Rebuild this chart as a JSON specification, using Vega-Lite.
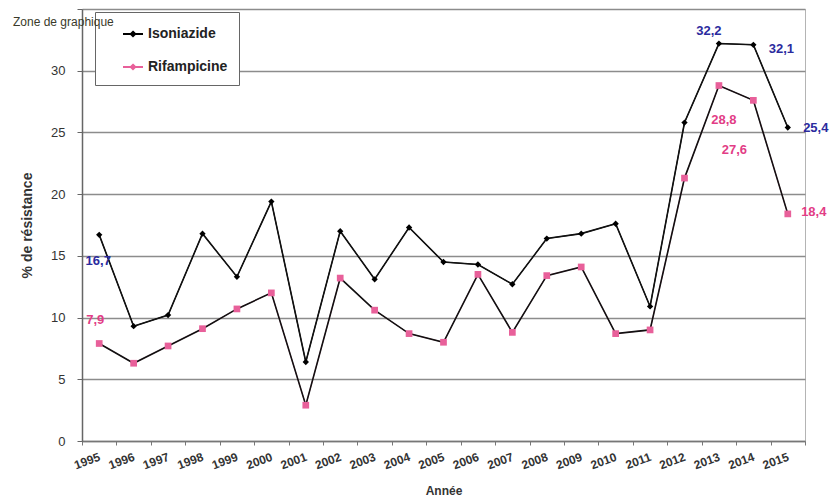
{
  "$schema": "https://vega.github.io/schema/vega-lite/v6.json",
  "width": 723,
  "height": 432,
  "autosize": {"type": "none"},
  "padding": {"left": 82, "top": 9, "right": 27, "bottom": 60},
  "background": "white",
  "config": {
    "font": "Liberation Sans",
    "view": {"stroke": "#b4b4b4", "strokeWidth": 1},
    "locale": {"number": {"decimal": ",", "thousands": " ", "grouping": [3], "currency": ["", " €"]}}
  },
  "title": {
    "text": "Zone de graphique",
    "anchor": "start",
    "frame": "group",
    "orient": "top",
    "fontSize": 12,
    "fontWeight": "normal",
    "color": "#3a3a2a",
    "dx": -69,
    "offset": -20
  },
  "data": {
    "values": [
      {"annee": "1995", "serie": "Isoniazide", "val": 16.7},
      {"annee": "1996", "serie": "Isoniazide", "val": 9.3},
      {"annee": "1997", "serie": "Isoniazide", "val": 10.2},
      {"annee": "1998", "serie": "Isoniazide", "val": 16.8},
      {"annee": "1999", "serie": "Isoniazide", "val": 13.3},
      {"annee": "2000", "serie": "Isoniazide", "val": 19.4},
      {"annee": "2001", "serie": "Isoniazide", "val": 6.4},
      {"annee": "2002", "serie": "Isoniazide", "val": 17.0},
      {"annee": "2003", "serie": "Isoniazide", "val": 13.1},
      {"annee": "2004", "serie": "Isoniazide", "val": 17.3},
      {"annee": "2005", "serie": "Isoniazide", "val": 14.5},
      {"annee": "2006", "serie": "Isoniazide", "val": 14.3},
      {"annee": "2007", "serie": "Isoniazide", "val": 12.7},
      {"annee": "2008", "serie": "Isoniazide", "val": 16.4},
      {"annee": "2009", "serie": "Isoniazide", "val": 16.8},
      {"annee": "2010", "serie": "Isoniazide", "val": 17.6},
      {"annee": "2011", "serie": "Isoniazide", "val": 10.9},
      {"annee": "2012", "serie": "Isoniazide", "val": 25.8},
      {"annee": "2013", "serie": "Isoniazide", "val": 32.2},
      {"annee": "2014", "serie": "Isoniazide", "val": 32.1},
      {"annee": "2015", "serie": "Isoniazide", "val": 25.4},
      {"annee": "1995", "serie": "Rifampicine", "val": 7.9},
      {"annee": "1996", "serie": "Rifampicine", "val": 6.3},
      {"annee": "1997", "serie": "Rifampicine", "val": 7.7},
      {"annee": "1998", "serie": "Rifampicine", "val": 9.1},
      {"annee": "1999", "serie": "Rifampicine", "val": 10.7},
      {"annee": "2000", "serie": "Rifampicine", "val": 12.0},
      {"annee": "2001", "serie": "Rifampicine", "val": 2.9},
      {"annee": "2002", "serie": "Rifampicine", "val": 13.2},
      {"annee": "2003", "serie": "Rifampicine", "val": 10.6},
      {"annee": "2004", "serie": "Rifampicine", "val": 8.7},
      {"annee": "2005", "serie": "Rifampicine", "val": 8.0},
      {"annee": "2006", "serie": "Rifampicine", "val": 13.5},
      {"annee": "2007", "serie": "Rifampicine", "val": 8.8},
      {"annee": "2008", "serie": "Rifampicine", "val": 13.4},
      {"annee": "2009", "serie": "Rifampicine", "val": 14.1},
      {"annee": "2010", "serie": "Rifampicine", "val": 8.7},
      {"annee": "2011", "serie": "Rifampicine", "val": 9.0},
      {"annee": "2012", "serie": "Rifampicine", "val": 21.3},
      {"annee": "2013", "serie": "Rifampicine", "val": 28.8},
      {"annee": "2014", "serie": "Rifampicine", "val": 27.6},
      {"annee": "2015", "serie": "Rifampicine", "val": 18.4}
    ]
  },
  "encoding": {
    "x": {
      "field": "annee",
      "type": "ordinal",
      "scale": {"type": "band", "paddingInner": 0, "paddingOuter": 0},
      "axis": {
        "title": "Année",
        "titleFontSize": 12,
        "titleFontWeight": "bold",
        "titleColor": "#333",
        "titleBaseline": "middle",
        "titleY": 49,
        "labelAngle": -20,
        "labelAlign": "right",
        "labelBaseline": "middle",
        "labelPadding": 11,
        "labelFontSize": 12,
        "labelFontWeight": "bold",
        "labelColor": "#333",
        "tickBand": "extent",
        "tickSize": 4,
        "tickColor": "#777",
        "domainColor": "#777",
        "domainWidth": 1.5,
        "grid": false
      }
    },
    "y": {
      "field": "val",
      "type": "quantitative",
      "scale": {"domain": [0, 35], "nice": false},
      "axis": {
        "title": "% de résistance",
        "titleFontSize": 14,
        "titleFontWeight": "bold",
        "titleColor": "#333",
        "titleX": -55,
        "titleY": 216,
        "titleAnchor": "middle",
        "titleBaseline": "middle",
        "values": [0, 5, 10, 15, 20, 25, 30, 35],
        "labelExpr": "datum.value === 35 ? '' : datum.label",
        "labelFontSize": 13,
        "labelColor": "#333",
        "labelPadding": 12,
        "tickSize": 5,
        "tickColor": "#666",
        "domainColor": "#666",
        "domainWidth": 1.5,
        "gridColor": "#8c8c8c",
        "gridWidth": 1.5
      }
    }
  },
  "layer": [
    {
      "mark": {"type": "line", "strokeWidth": 1},
      "encoding": {
        "color": {
          "field": "serie",
          "type": "nominal",
          "scale": {"domain": ["Isoniazide", "Rifampicine"], "range": ["#000000", "#e8609a"]},
          "legend": {
            "orient": "none",
            "legendX": 13,
            "legendY": 3,
            "title": null,
            "strokeColor": "#666",
            "fillColor": "white",
            "padding": 11,
            "symbolOffset": 16,
            "rowPadding": 15,
            "labelOffset": 4,
            "symbolSize": 400,
            "symbolType": "M-1,0H1M0,-0.22L0.22,0L0,0.22L-0.22,0Z",
            "symbolStrokeWidth": 2,
            "labelFontSize": 14,
            "labelFontWeight": "bold",
            "labelColor": "#222"
          }
        }
      }
    },
    {
      "mark": {"type": "line", "color": "#111", "strokeWidth": 1.6},
      "encoding": {"detail": {"field": "serie"}}
    },
    {
      "transform": [{"filter": "datum.serie === 'Isoniazide'"}],
      "mark": {"type": "point", "shape": "diamond", "filled": true, "opacity": 1, "size": 40, "color": "#000000"}
    },
    {
      "transform": [{"filter": "datum.serie === 'Rifampicine'"}],
      "mark": {"type": "point", "shape": "square", "filled": true, "opacity": 1, "size": 45, "color": "#e8609a"}
    },
    {
      "transform": [{"filter": "datum.serie === 'Isoniazide' && datum.annee === '1995'"}],
      "mark": {"type": "text", "fontSize": 13, "fontWeight": "bold", "color": "#2b2b9e", "dx": -1, "dy": 26},
      "encoding": {"text": {"field": "val", "type": "quantitative", "format": ".1f"}}
    },
    {
      "transform": [{"filter": "datum.serie === 'Rifampicine' && datum.annee === '1995'"}],
      "mark": {"type": "text", "fontSize": 13, "fontWeight": "bold", "color": "#e23d86", "dx": -4, "dy": -23},
      "encoding": {"text": {"field": "val", "type": "quantitative", "format": ".1f"}}
    },
    {
      "transform": [{"filter": "datum.serie === 'Isoniazide' && datum.annee === '2013'"}],
      "mark": {"type": "text", "fontSize": 13, "fontWeight": "bold", "color": "#2b2b9e", "dx": -10, "dy": -13},
      "encoding": {"text": {"field": "val", "type": "quantitative", "format": ".1f"}}
    },
    {
      "transform": [{"filter": "datum.serie === 'Isoniazide' && datum.annee === '2014'"}],
      "mark": {"type": "text", "fontSize": 13, "fontWeight": "bold", "color": "#2b2b9e", "dx": 28, "dy": 4},
      "encoding": {"text": {"field": "val", "type": "quantitative", "format": ".1f"}}
    },
    {
      "transform": [{"filter": "datum.serie === 'Isoniazide' && datum.annee === '2015'"}],
      "mark": {"type": "text", "fontSize": 13, "fontWeight": "bold", "color": "#2b2b9e", "dx": 28, "dy": 1},
      "encoding": {"text": {"field": "val", "type": "quantitative", "format": ".1f"}}
    },
    {
      "transform": [{"filter": "datum.serie === 'Rifampicine' && datum.annee === '2013'"}],
      "mark": {"type": "text", "fontSize": 13, "fontWeight": "bold", "color": "#e23d86", "dx": 5, "dy": 34},
      "encoding": {"text": {"field": "val", "type": "quantitative", "format": ".1f"}}
    },
    {
      "transform": [{"filter": "datum.serie === 'Rifampicine' && datum.annee === '2014'"}],
      "mark": {"type": "text", "fontSize": 13, "fontWeight": "bold", "color": "#e23d86", "dx": -19, "dy": 50},
      "encoding": {"text": {"field": "val", "type": "quantitative", "format": ".1f"}}
    },
    {
      "transform": [{"filter": "datum.serie === 'Rifampicine' && datum.annee === '2015'"}],
      "mark": {"type": "text", "fontSize": 13, "fontWeight": "bold", "color": "#e23d86", "dx": 26, "dy": -2},
      "encoding": {"text": {"field": "val", "type": "quantitative", "format": ".1f"}}
    }
  ]
}
